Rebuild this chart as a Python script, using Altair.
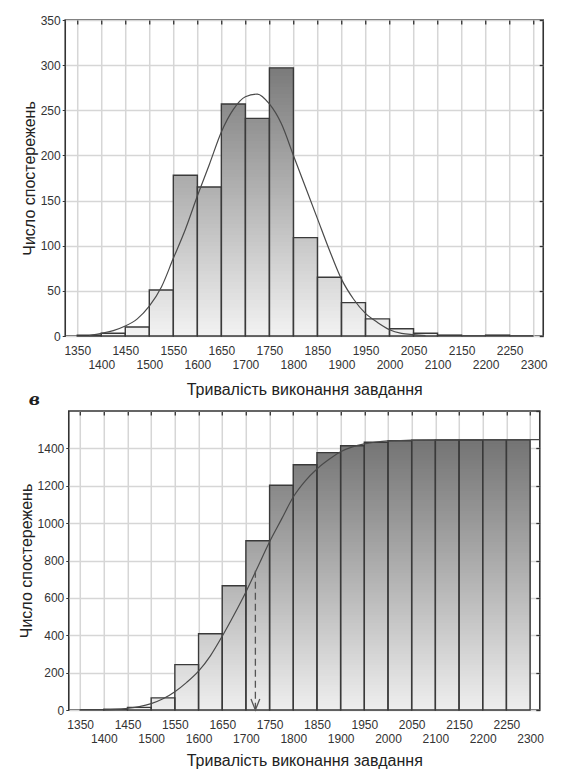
import altair as alt
import pandas as pd

# ---------------- data ----------------
bin_lo = [1350, 1400, 1450, 1500, 1550, 1600, 1650, 1700, 1750, 1800,
          1850, 1900, 1950, 2000, 2050, 2100, 2150, 2200, 2250]
bin_hi = [1400, 1450, 1500, 1550, 1600, 1650, 1700, 1750, 1800, 1850,
          1900, 1950, 2000, 2050, 2100, 2150, 2200, 2250, 2300]
counts = [1, 3, 10, 51, 178, 165, 257, 241, 297, 109,
          65, 37, 19, 8, 3, 1, 0, 1, 0]

# fitted normal curve (top panel)
pdf_x = [1375, 1400, 1425, 1450, 1475, 1500, 1525, 1550, 1575, 1600,
         1625, 1650, 1675, 1700, 1725, 1750, 1775, 1800, 1825, 1850,
         1875, 1900, 1925, 1950, 1975, 2000, 2025, 2050, 2075]
pdf_y = [0.5, 3, 6, 11, 19, 33, 54, 86, 118, 155,
         190, 226, 251, 265, 268, 257, 235, 200, 165, 130,
         95, 63, 41, 25, 15, 7, 3, 1.5, 0.5]

# cumulative curve (bottom panel)
cdf_x = [1400, 1425, 1450, 1475, 1500, 1525, 1550, 1575, 1600, 1625,
         1650, 1675, 1700, 1725, 1750, 1775, 1800, 1825, 1850, 1875,
         1900, 1925, 1950, 1975, 2000, 2050, 2100, 2200, 2320]
cdf_y = [1, 3, 9, 18, 34, 60, 98, 148, 208, 290,
         395, 510, 632, 765, 900, 1020, 1140, 1225, 1290, 1340,
         1382, 1408, 1424, 1434, 1440, 1444, 1446, 1447, 1447]

median_x = [1720]
median_y = [745]

x_ticks = [1350, 1400, 1450, 1500, 1550, 1600, 1650, 1700, 1750, 1800,
           1850, 1900, 1950, 2000, 2050, 2100, 2150, 2200, 2250, 2300]
y1_ticks = [0, 50, 100, 150, 200, 250, 300, 350]
y2_ticks = [0, 200, 400, 600, 800, 1000, 1200, 1400]
y2_frame_ticks = [0, 200, 400, 600, 800, 1000, 1200, 1400, 1600]

XTITLE = "Тривалість виконання завдання"
YTITLE = "Число спостережень"
PANEL_LABEL = "в"

# ---------------- styling ----------------
FONT = "Liberation Sans"
GRID = "#d6d6d6"
EDGE = "#3a3a3a"
CURVE = "#4a4a4a"

bars = pd.DataFrame({"x0": bin_lo, "x1": bin_hi, "n": counts})
bars["cum"] = bars["n"].cumsum()
bars["base"] = 0


def slices(col, step):
    """vertical gradient built from stacked rectangles (tallest drawn first)"""
    rows = []
    for a, b, v in zip(bars["x0"], bars["x1"], bars[col]):
        lev = step
        while lev < v:
            rows.append((a, b, lev))
            lev += step
        if v > 0:
            rows.append((a, b, float(v)))
    df = pd.DataFrame(rows, columns=["x0", "x1", "lev"])
    df["base"] = 0
    return df.sort_values("lev", ascending=False).reset_index(drop=True)


def x_axis(title_pad):
    return alt.Axis(orient="bottom", values=x_ticks, format="d", grid=True, gridColor=GRID,
                    gridWidth=1.5, domain=False, ticks=False, labelFont=FONT, labelFontSize=12,
                    labelColor="#333", labelPadding=9, labelLineHeight=14,
                    labelExpr="datum.value % 100 === 0 ? ['', datum.label] : datum.label",
                    labelOverlap=False, labelFlush=False, labelBaseline="top",
                    title=XTITLE, titleFont=FONT, titleFontSize=16,
                    titleFontWeight="normal", titleColor="#222", titlePadding=title_pad)


def y_axis(vals):
    return alt.Axis(orient="left", values=vals, format="d", grid=True, gridColor=GRID,
                    gridWidth=1.5, domain=False, tickSize=3, tickColor="#333",
                    labelFont=FONT, labelFontSize=12, labelColor="#333", labelPadding=2,
                    title=YTITLE, titleFont=FONT, titleFontSize=16, titleFontWeight="normal",
                    titleColor="#222", titlePadding=3)


top_ticks_axis = alt.Axis(orient="top", values=x_ticks, labels=False, title=None, grid=False,
                          domain=False, ticks=True, tickSize=4, offset=-4,
                          tickColor="#333", tickWidth=1.3)


def right_ticks_axis(vals):
    return alt.Axis(orient="right", values=vals, labels=False, title=None, grid=False,
                    domain=False, ticks=True, tickSize=4, offset=-4,
                    tickColor="#333", tickWidth=1.3)


def panel(col, step, xdom, ydom, yvals, yframe, cx, cy, cdomain, crange, title_pad):
    xs = alt.Scale(domain=xdom, nice=False, zero=False)
    ys = alt.Scale(domain=ydom, nice=False)
    sl = slices(col, step)
    fill = alt.Chart(sl).mark_rect(strokeWidth=0).encode(
        x=alt.X("x0:Q", scale=xs, axis=x_axis(title_pad)),
        x2="x1:Q",
        y=alt.Y("lev:Q", scale=ys, axis=y_axis(yvals)),
        y2="base:Q",
        color=alt.Color("lev:Q", scale=alt.Scale(domain=cdomain, range=crange,
                                                 interpolate="rgb"), legend=None),
    )
    outline = alt.Chart(bars).mark_rect(fillOpacity=0, stroke=EDGE, strokeWidth=1.4).encode(
        x=alt.X("x0:Q", scale=xs, axis=None),
        x2="x1:Q",
        y=alt.Y(f"{col}:Q", scale=ys, axis=None),
        y2="base:Q",
    )
    curve = alt.Chart(pd.DataFrame({"cx": cx, "cy": cy})).mark_line(
        color=CURVE, strokeWidth=1.2, interpolate="monotone").encode(
        x=alt.X("cx:Q", scale=xs, axis=top_ticks_axis),
        y=alt.Y("cy:Q", scale=ys, axis=right_ticks_axis(yframe)),
    )
    return [fill, outline, curve], xs, ys


# ---------------- top panel ----------------
W1, H1 = 478, 316
layers1, xs1, ys1 = panel("n", 4, [1325, 2320], [0, 350], y1_ticks, y1_ticks,
                          pdf_x, pdf_y, [0, 300], ["#f3f3f3", "#7a7a7a"], 11)
label = alt.Chart(pd.DataFrame({"t": [PANEL_LABEL]})).mark_text(
    font="DejaVu Serif", fontStyle="italic", fontWeight="bold", fontSize=17,
    color="#222", align="center", baseline="middle").encode(
    text="t:N", x=alt.value(-31), y=alt.value(H1 + 64))
top = alt.layer(*layers1, label).properties(width=W1, height=H1)

# ---------------- bottom panel ----------------
W2, H2 = 471, 299
layers2, xs2, ys2 = panel("cum", 15, [1326, 2320.5], [0, 1600], y2_ticks,
                          y2_frame_ticks, cdf_x, cdf_y, [0, 1450], ["#efefef", "#747474"], 8)
med = pd.DataFrame({"mx": median_x, "my": median_y, "base": [0]})
dash = alt.Chart(med).mark_rule(color="#555", strokeWidth=1.3, strokeDash=[7, 4]).encode(
    x=alt.X("mx:Q", scale=xs2, axis=None),
    y=alt.Y("my:Q", scale=ys2, axis=None),
    y2="base:Q",
)
arrow = alt.Chart(med).mark_point(shape="M -0.4 -1 L 0 0 L 0.4 -1", size=484, filled=False,
                                  stroke="#555", strokeWidth=1.3, opacity=1).encode(
    x=alt.X("mx:Q", scale=xs2, axis=None),
    y=alt.Y("base:Q", scale=ys2, axis=None),
)
bottom = alt.layer(*layers2, dash, arrow).properties(width=W2, height=H2)

chart = alt.vconcat(top, bottom, spacing=0, center=True).resolve_scale(
    x="independent", y="independent", color="independent"
).properties(
    padding={"left": 9, "top": 5, "right": 0, "bottom": 0},
    background="white",
).configure_view(stroke="#333", strokeWidth=1.6)

chart.save("out.html", embed_options={"renderer": "svg", "actions": False})
